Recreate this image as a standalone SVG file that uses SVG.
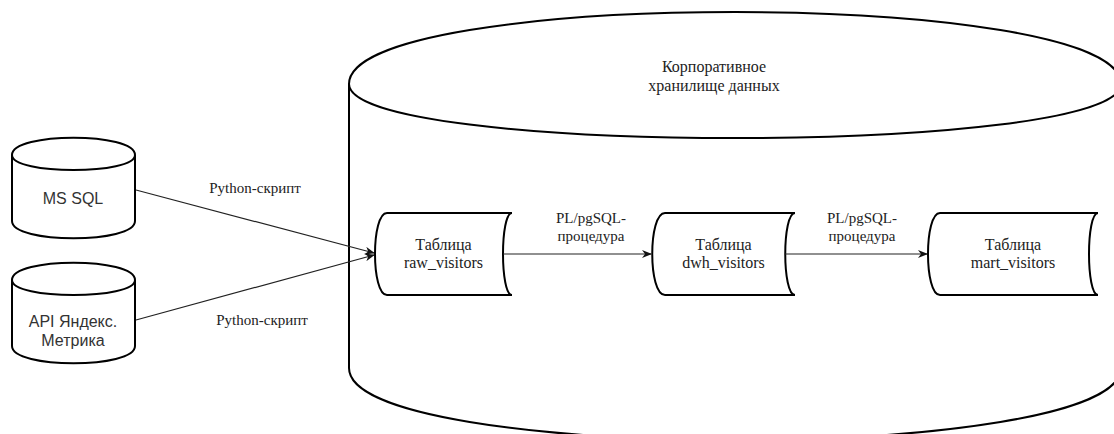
<svg xmlns="http://www.w3.org/2000/svg" width="1114" height="434" viewBox="0 0 1114 434">
  <defs>
    <style>
      .shape { fill: #ffffff; stroke: #000000; stroke-width: 2; }
      .edge { fill: none; stroke: #222222; stroke-width: 1.2; }
      .serif { font-family: "Liberation Serif", "Times New Roman", serif; fill: #222222; text-anchor: middle; }
      .sans { font-family: "Liberation Sans", Arial, sans-serif; fill: #333333; text-anchor: middle; font-size: 16px; }
      .node-label { font-size: 16px; }
      .edge-label { font-size: 15px; }
    </style>
    <marker id="arrow" viewBox="0 0 10 8" refX="9" refY="4" markerWidth="10" markerHeight="8" markerUnits="userSpaceOnUse" orient="auto">
      <path d="M0,0 L10,4 L0,8 L3,4 Z" fill="#111111"/>
    </marker>
  </defs>
  <rect width="1114" height="434" fill="#ffffff"/>

  <g id="dwh-storage">
    <path class="shape" d="M349,84 C349,-12 1121,-12 1121,84 L1121,368 C1121,464 349,464 349,368 Z"/>
    <path class="shape" fill="none" d="M349,84 C349,156 1121,156 1121,84"/>
    <text class="serif node-label" x="714" y="72">Корпоративное</text>
    <text class="serif node-label" x="714" y="91">хранилище данных</text>
  </g>

  <g id="ms-sql">
    <path class="shape" d="M12,155 C12,132 135,132 135,155 L135,221 C135,244 12,244 12,221 Z"/>
    <path class="shape" fill="none" d="M12,155 C12,175 135,175 135,155"/>
    <text class="sans" x="73" y="204">MS SQL</text>
  </g>

  <g id="api-metrika">
    <path class="shape" d="M12,280 C12,257 135,257 135,280 L135,346 C135,369 12,369 12,346 Z"/>
    <path class="shape" fill="none" d="M12,280 C12,300 135,300 135,280"/>
    <text class="sans" x="73" y="327">API Яндекс.</text>
    <text class="sans" x="73" y="346">Метрика</text>
  </g>

  <g id="raw-visitors">
    <path class="shape" d="M387,213 L512,213 C500,213 500,295 512,295 L387,295 C371,295 371,213 387,213 Z"/>
    <text class="serif node-label" x="443.5" y="250">Таблица</text>
    <text class="serif node-label" x="443.5" y="268">raw_visitors</text>
  </g>

  <g id="dwh-visitors">
    <path class="shape" d="M665,213 L795,213 C782,213 782,295 795,295 L665,295 C648,295 648,213 665,213 Z"/>
    <text class="serif node-label" x="723.5" y="250">Таблица</text>
    <text class="serif node-label" x="723.5" y="268">dwh_visitors</text>
  </g>

  <g id="mart-visitors">
    <path class="shape" d="M940,213 L1098,213 C1086,213 1086,295 1098,295 L940,295 C924,295 924,213 940,213 Z"/>
    <text class="serif node-label" x="1013" y="250">Таблица</text>
    <text class="serif node-label" x="1013" y="268">mart_visitors</text>
  </g>

  <g id="connectors">
    <path class="edge" d="M136,190 L374,253" marker-end="url(#arrow)"/>
    <path class="edge" d="M136,320 L374,255" marker-end="url(#arrow)"/>
    <path class="edge" d="M503,254 L651,254" marker-end="url(#arrow)"/>
    <path class="edge" d="M785,254 L927,254" marker-end="url(#arrow)"/>
    <text class="serif edge-label" x="255" y="193">Python-скрипт</text>
    <text class="serif edge-label" x="262" y="325">Python-скрипт</text>
    <text class="serif edge-label" x="591" y="223">PL/pgSQL-</text>
    <text class="serif edge-label" x="591" y="241">процедура</text>
    <text class="serif edge-label" x="862" y="223">PL/pgSQL-</text>
    <text class="serif edge-label" x="862" y="241">процедура</text>
  </g>
</svg>
